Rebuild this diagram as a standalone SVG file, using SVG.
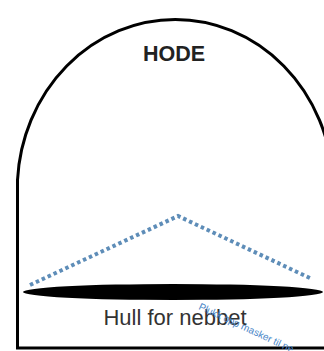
<svg xmlns="http://www.w3.org/2000/svg" width="324" height="351" viewBox="0 0 324 351">
<style>
.outline{fill:none;stroke:#000;stroke-width:3}
.dots{fill:none;stroke:#5e8db8;stroke-width:4;stroke-dasharray:3.5 3}
.t{font-family:"Liberation Sans",Arial,sans-serif;text-anchor:middle}
</style>
<rect width="324" height="351" fill="#fff"/>
<g id="head">
<path class="outline" d="M17.5 348 L17.5 180 A158 170 0 0 1 333 180 L333 348 Z"/>
<text class="t" x="174" y="61" font-size="21.5" font-weight="bold" fill="#222">HODE</text>
</g>
<g id="beak-lines">
<polyline class="dots" points="30,285 178,216 312,279"/>
</g>
<g id="hole">
<ellipse cx="173" cy="292" rx="150" ry="8" fill="#000"/>
<text class="t" x="175" y="325" font-size="22" fill="#333">Hull for nebbet</text>
</g>
<g id="note">
<text x="198" y="309" font-family="'Liberation Sans',Arial,sans-serif" font-size="10" fill="#4a86c8" transform="rotate(25 198 309)">Plukk opp masker til ne</text>
</g>
</svg>
